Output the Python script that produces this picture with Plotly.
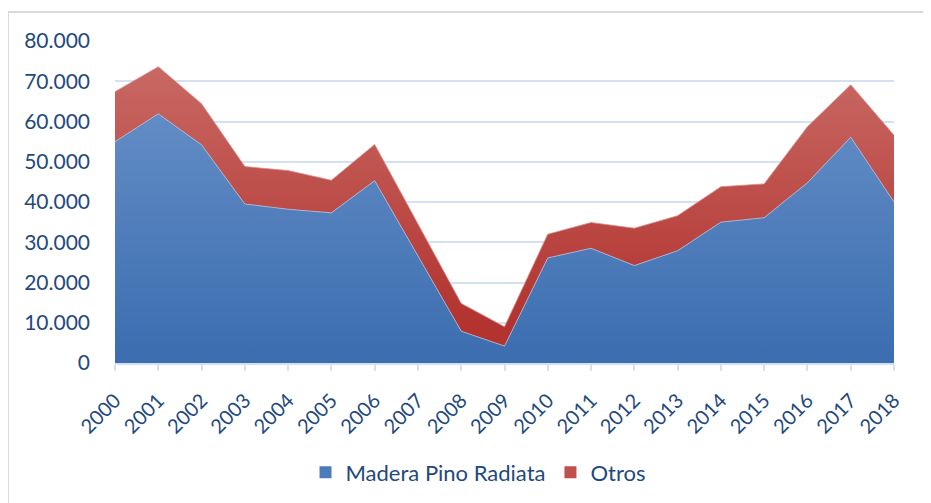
import plotly.graph_objects as go

years = [str(y) for y in range(2000, 2019)]
madera = [55000, 61900, 54200, 39500, 38200, 37300, 45300, 26500, 7900, 4200,
          26100, 28500, 24200, 27900, 35000, 36100, 44800, 56100, 40000]
otros = [12400, 11700, 10200, 9300, 9600, 8100, 9000, 8000, 6900, 4800,
         5900, 6400, 9300, 8700, 8800, 8400, 13900, 13000, 16600]

FONT = "Lato, 'Open Sans', sans-serif"
TXT = "#1f497d"
GRID = "#d5e1f2"

fig = go.Figure()
fig.add_trace(go.Scatter(
    x=years, y=madera, name="Madera Pino Radiata", stackgroup="one",
    mode="lines", line=dict(width=0.8, color="#a9bfe0"),
    fillcolor="#4f7fbf", showlegend=False,
    fillgradient=dict(type="vertical", start=0, stop=70000,
                      colorscale=[[0, "#3b6daf"], [1, "#6790c8"]]),
))
fig.add_trace(go.Scatter(
    x=years, y=otros, name="Otros", stackgroup="one",
    mode="lines", line=dict(width=0.8, color="#d88a86"),
    fillcolor="#c0504d", showlegend=False,
    fillgradient=dict(type="vertical", start=10000, stop=75000,
                      colorscale=[[0, "#b2332f"], [1, "#c96a65"]]),
))
# legend entries (square swatches)
fig.add_trace(go.Bar(x=[years[0]], y=[0], name="Madera Pino Radiata",
                     marker=dict(color="#4a7bbd", line=dict(width=0)), hoverinfo="skip"))
fig.add_trace(go.Bar(x=[years[0]], y=[0], name="Otros",
                     marker=dict(color="#c0504d", line=dict(width=0)), hoverinfo="skip"))

# page has an 8px body margin: compensate so plot sits at page x 115..894, y 41..363
L, T, B, R = 107, 33, 148, 45
fig.update_layout(
    width=931, height=503,
    margin=dict(l=L, r=R, t=T, b=B),
    paper_bgcolor="white", plot_bgcolor="white",
    separators=",.",
    font=dict(family=FONT, color=TXT),
    showlegend=True,
    legend=dict(orientation="h", x=0.466, xanchor="center", y=-0.34, yanchor="middle",
                font=dict(size=22, color=TXT, family=FONT),
                traceorder="normal", itemwidth=30),
    xaxis=dict(type="category", range=[0, 18], showgrid=False, tickangle=-45,
               ticks="outside", ticklen=6, tickcolor=GRID, tickwidth=1.5,
               showline=True, linecolor=GRID, linewidth=2, automargin=False,
               ticklabelstandoff=10,
               tickfont=dict(size=20, color=TXT, family=FONT)),
    yaxis=dict(range=[0, 80000], dtick=10000, tickformat=",d", showgrid=True,
               gridcolor=GRID, gridwidth=2, zeroline=False, showline=False,
               tickfont=dict(size=21, color=TXT, family=FONT), ticks="",
               ticklabelstandoff=24, automargin=False),
    shapes=[dict(type="rect", xref="paper", yref="paper",
                 x0=-107 / 779, x1=1.2, y0=-0.6, y1=(322 + 29) / 322,
                 line=dict(color="#d9d9d9", width=2), fillcolor="rgba(0,0,0,0)",
                 layer="below")],
)

fig.write_html("out.html")
